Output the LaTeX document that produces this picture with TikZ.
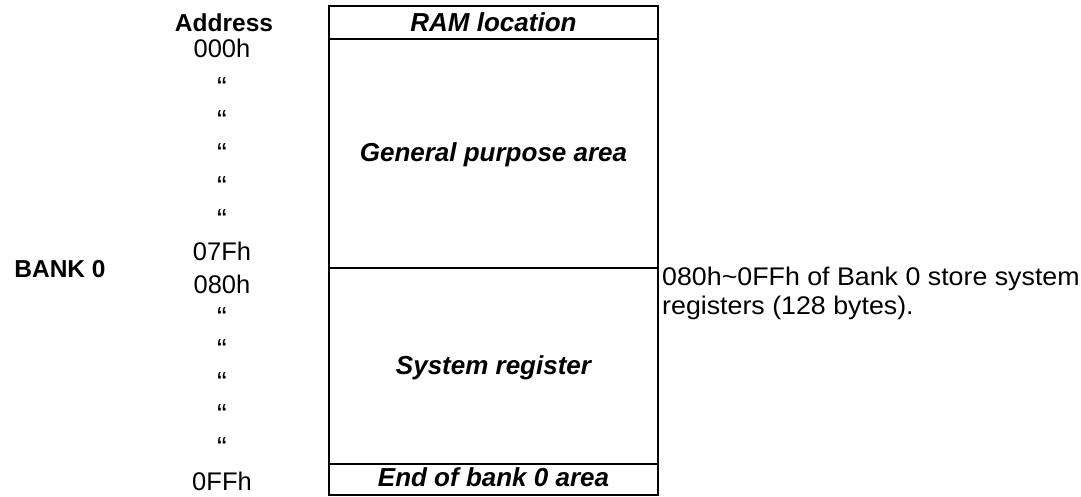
\documentclass[tikz,border=0pt]{standalone}
\usepackage{fontspec}
\setmainfont{Liberation Sans}
\begin{document}
\begin{tikzpicture}[x=1pt,y=-1pt,
  txt/.style={inner sep=0pt, anchor=base, font=\fontsize{25.5}{29}\selectfont},
  quote/.style={txt, font=\fontsize{29}{29}\selectfont},
  bold/.style={txt, font=\fontsize{24.5}{29}\selectfont\bfseries},
  bolditalic/.style={txt, font=\fontsize{26}{29}\selectfont\bfseries\itshape},
  cell/.style={draw, line width=2.3pt, inner sep=0pt, minimum width=329pt}]
\useasboundingbox (0,0) rectangle (1081,496);
% cells
\node[cell, minimum height=33pt]  (hdr) at (493.5,22.5) {};
\node[cell, minimum height=229pt] (gpa) at (493.5,153.5) {};
\node[cell, minimum height=196pt] (sys) at (493.5,366) {};
\node[cell, minimum height=31pt]  (end) at (493.5,479.5) {};
% cell texts
\node[bolditalic] (thdr) at (493.5,31) {RAM location};
\node[bolditalic] (tgpa) at (493.5,161) {General purpose area};
\node[bolditalic] (tsys) at (493.5,374.5) {System register};
\node[bolditalic] (tend) at (493.5,486) {End of bank 0 area};
% address column
\node[bold] (addr) at (224,31) {Address};
\node[txt] (a000) at (222,57) {000h};
\foreach \y [count=\i] in {80,113,146,179,212} {\node[quote] (qa\i) at (222,\y+17) {“};}
\node[txt] (a07f) at (222,260.5) {07Fh};
\node[txt] (a080) at (222,293) {080h};
\foreach \y [count=\i] in {310,342,375,407,440} {\node[quote] (qb\i) at (222,\y+17) {“};}
\node[txt] (a0ff) at (222,490) {0FFh};
% bank label
\node[bold] (bank) at (60,277) {BANK 0};
% note
\node[txt, anchor=base west, xscale=1.05] (note1) at (662,285) {080h\char"007E 0FFh of Bank 0 store system};
\node[txt, anchor=base west, xscale=1.05] (note2) at (662,314) {registers (128 bytes).};
\end{tikzpicture}
\end{document}
